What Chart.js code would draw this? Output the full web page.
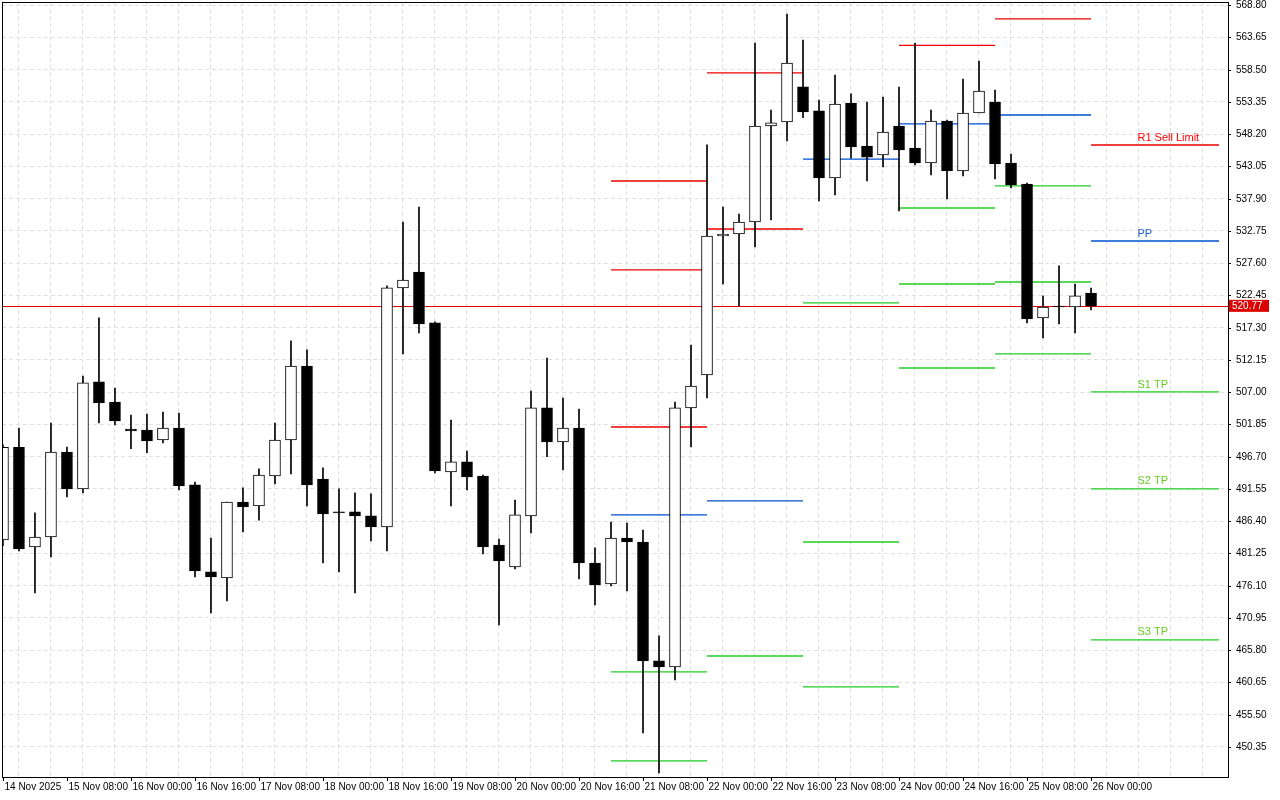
<!DOCTYPE html>
<html>
<head>
<meta charset="utf-8">
<script src="https://cdn.jsdelivr.net/npm/chart.js@4"></script>
<style>
  html, body { margin: 0; padding: 0; background: #fff; }
  #wrap { width: 1280px; height: 800px; }
</style>
</head>
<body>
<div id="wrap"><canvas id="myChart" width="1280" height="800"></canvas></div>
<script>
// 4h candles, 14 Nov 2025 16:00 -> 26 Nov 2025 00:00
const opens  = [483.4,498.2,482.28,483.87,497.44,491.54,508.62,505.42,501.11,500.95,499.35,501.27,492.18,478.29,477.33,489.46,488.82,493.61,499.35,511.17,493.13,487.87,487.87,487.23,485.47,523.63,526.18,518.04,494.25,495.85,493.61,482.59,479.08,487.23,504.47,499.03,501.27,479.72,476.37,483.71,483.07,464.08,463.12,504.47,509.73,531.92,532.24,534.16,549.49,550.12,555.75,551.92,541.18,553.16,546.29,544.86,549.49,545.97,543.58,550.28,542.30,551.56,553.32,543.58,540.23,518.84,520.75,520.59,522.82];
const highs  = [498.6,501.27,487.71,502.07,498.24,509.57,518.84,507.66,503.35,503.51,503.83,503.67,492.65,483.71,489.46,491.70,494.73,502.07,515.17,513.74,494.89,491.54,490.90,490.74,523.95,534.16,536.55,518.20,502.55,497.60,493.77,483.55,489.78,507.18,512.45,506.06,504.30,482.12,486.25,486.09,484.99,468.07,505.42,514.52,546.46,536.55,535.44,562.74,552.04,567.37,563.21,553.64,557.63,554.60,553.32,554.12,555.71,562.74,552.04,550.44,556.99,559.86,555.23,545.01,540.39,522.35,527.14,524.26,523.62];
const lows   = [482.5,481.64,474.94,480.68,490.26,490.90,502.07,501.75,497.96,497.32,498.87,491.38,477.49,471.74,473.66,484.67,486.57,492.33,493.93,488.82,479.72,478.29,474.94,483.23,481.64,513.09,516.44,494.09,488.82,491.38,481.16,469.82,478.77,484.51,496.68,494.57,477.17,473.02,476.05,475.26,452.59,446.21,461.04,498.24,506.06,524.26,520.75,530.17,534.48,547.09,550.80,537.51,538.47,544.36,540.70,542.94,535.92,543.26,541.66,537.83,541.50,551.56,541.02,539.59,518.04,515.64,517.88,516.44,520.11];
const closes = [498.2,481.96,483.87,497.44,491.54,508.46,505.26,502.39,500.79,499.19,501.27,492.02,478.45,477.49,489.46,488.66,493.77,499.35,511.17,492.18,487.55,487.71,487.23,485.47,523.63,524.90,517.88,494.41,495.85,493.45,482.28,480.04,487.39,504.47,499.03,501.27,479.72,476.21,483.71,483.07,464.08,463.12,504.47,507.98,531.92,532.24,534.16,549.49,549.97,559.54,551.73,541.18,552.99,546.13,544.52,548.53,545.65,543.58,550.28,542.30,551.56,555.07,543.42,540.07,518.67,520.59,520.59,522.35,520.77];

const xTickLabels = ['14 Nov 2025','15 Nov 08:00','16 Nov 00:00','16 Nov 16:00','17 Nov 08:00','18 Nov 00:00','18 Nov 16:00','19 Nov 08:00','20 Nov 00:00','20 Nov 16:00','21 Nov 08:00','22 Nov 00:00','22 Nov 16:00','23 Nov 08:00','24 Nov 00:00','24 Nov 16:00','25 Nov 08:00','26 Nov 00:00'];
const yTickLabels = [568.80,563.65,558.50,553.35,548.20,543.05,537.90,532.75,527.60,522.45,517.30,512.15,507.00,501.85,496.70,491.55,486.40,481.25,476.10,470.95,465.80,460.65,455.50,450.35];

// daily pivot segments (candle index start / end)
const pivotStart = [38, 44, 50, 56, 62, 68];
const pivotEnd   = [44, 50, 56, 62, 68, 76];
const resLevels  = [[540.70, 526.50, 501.43], [557.95, 533.04], [], [562.34], [566.57], [546.45]];
const ppLevels   = [487.39, 489.62, 544.21, 549.81, 551.24, 531.12];
const supLevels  = [[462.32, 448.11], [464.87], [521.23, 483.07, 459.93], [536.39, 524.26, 510.85], [539.91, 524.58, 513.09], [507.02, 491.54, 467.43]];

const lastPrice = 520.77;
const levelTags = [
  { text: 'R1 Sell Limit', y: 546.45, color: '#ff0000' },
  { text: 'PP', y: 531.12, color: '#1f5fd6' },
  { text: 'S1 TP', y: 507.02, color: '#66cc22' },
  { text: 'S2 TP', y: 491.54, color: '#66cc22' },
  { text: 'S3 TP', y: 467.43, color: '#66cc22' }
];

const RED = '#ee0000', BLUE = '#0050d0', GREEN = '#22cc22';
const FONT = '10px "Liberation Sans", Arial, sans-serif';

const bodies = opens.map((o, i) => ({ x: i, y: [o, closes[i]] }));
const wicks = lows.map((l, i) => ({ x: i, y: [l, highs[i]] }));
const bodyFill = opens.map((o, i) => closes[i] >= o ? '#ffffff' : '#000000');

function seg(start, end, v, color) {
  return {
    type: 'line',
    data: [{ x: start, y: v }, { x: end, y: v }],
    borderColor: color,
    backgroundColor: color,
    borderWidth: 1.3,
    pointRadius: 0,
    order: 3
  };
}

const pivotSets = [];
pivotStart.forEach((s, d) => {
  resLevels[d].forEach(v => pivotSets.push(seg(s, pivotEnd[d], v, RED)));
  pivotSets.push(seg(s, pivotEnd[d], ppLevels[d], BLUE));
  supLevels[d].forEach(v => pivotSets.push(seg(s, pivotEnd[d], v, GREEN)));
});

const extras = {
  id: 'extras',
  beforeDatasetsDraw(chart) {
    const { ctx, chartArea: a, scales: { y } } = chart;
    const py = Math.round(y.getPixelForValue(lastPrice)) + 0.5;
    ctx.save();
    ctx.strokeStyle = '#dd0000';
    ctx.lineWidth = 1;
    ctx.beginPath();
    ctx.moveTo(a.left, py);
    ctx.lineTo(a.right, py);
    ctx.stroke();
    ctx.restore();
  },
  afterDraw(chart) {
    const { ctx, chartArea: a, scales: { x, y } } = chart;
    ctx.save();
    // frame
    ctx.strokeStyle = '#000';
    ctx.lineWidth = 1;
    ctx.strokeRect(a.left + 0.5, a.top + 0.5, a.right - a.left, a.bottom - a.top);
    ctx.font = FONT;
    ctx.fillStyle = '#000';
    // y labels
    ctx.textAlign = 'left';
    ctx.textBaseline = 'middle';
    yTickLabels.forEach(v => {
      const py = Math.round(y.getPixelForValue(v)) + 0.5;
      ctx.beginPath();
      ctx.moveTo(a.right, py);
      ctx.lineTo(a.right + 3, py);
      ctx.stroke();
      ctx.fillText(v.toFixed(2), a.right + 8, py);
    });
    // x labels
    ctx.textBaseline = 'top';
    xTickLabels.forEach((t, k) => {
      const px = Math.round(x.getPixelForValue(k * 4)) + 0.5;
      ctx.beginPath();
      ctx.moveTo(px, a.bottom);
      ctx.lineTo(px, a.bottom + 4);
      ctx.stroke();
      ctx.fillText(t, px + 1, a.bottom + 5);
    });
    // level tags
    ctx.font = '11px "Liberation Sans", Arial, sans-serif';
    ctx.textBaseline = 'bottom';
    levelTags.forEach(t => {
      ctx.fillStyle = t.color;
      ctx.fillText(t.text, x.getPixelForValue(70.9), y.getPixelForValue(t.y) - 2);
    });
    // last price box
    const py = y.getPixelForValue(lastPrice);
    ctx.fillStyle = '#dd0000';
    ctx.fillRect(a.right + 1, py - 6, 40, 12);
    ctx.fillStyle = '#fff';
    ctx.font = FONT;
    ctx.textBaseline = 'middle';
    ctx.fillText(lastPrice.toFixed(2), a.right + 4, py + 0.5);
    ctx.restore();
  }
};

new Chart(document.getElementById('myChart').getContext('2d'), {
  type: 'bar',
  data: {
    datasets: [
      {
        type: 'bar', data: bodies, backgroundColor: bodyFill, borderColor: '#000',
        borderWidth: 1, borderSkipped: false, barThickness: 11, grouped: false, order: 0
      },
      {
        type: 'bar', data: wicks, backgroundColor: '#000', borderWidth: 0,
        barThickness: 1, grouped: false, order: 1
      },
      ...pivotSets
    ]
  },
  options: {
    responsive: false,
    animation: false,
    layout: { padding: { left: 2, top: 2, right: 0, bottom: 0 } },
    plugins: { legend: { display: false }, tooltip: { enabled: false } },
    scales: {
      x: {
        type: 'linear', min: -0.06, max: 76.56, offset: false,
        afterBuildTicks(s) {
          s.ticks = [];
          for (let i = 2; i <= 76; i += 2) s.ticks.push({ value: i - 0.06 });
        },
        afterFit(s) { s.height = 23; },
        grid: { color: '#e0e0e0', drawTicks: false },
        border: { display: false, dash: [4, 3] },
        ticks: { display: false }
      },
      y: {
        position: 'right', min: 445.55, max: 569.28,
        afterBuildTicks(s) { s.ticks = yTickLabels.map(v => ({ value: v })); },
        afterFit(s) { s.width = 52; },
        grid: { color: '#e0e0e0', drawTicks: false },
        border: { display: false, dash: [4, 3] },
        ticks: { display: false }
      }
    }
  },
  plugins: [extras]
});
</script>
</body>
</html>
